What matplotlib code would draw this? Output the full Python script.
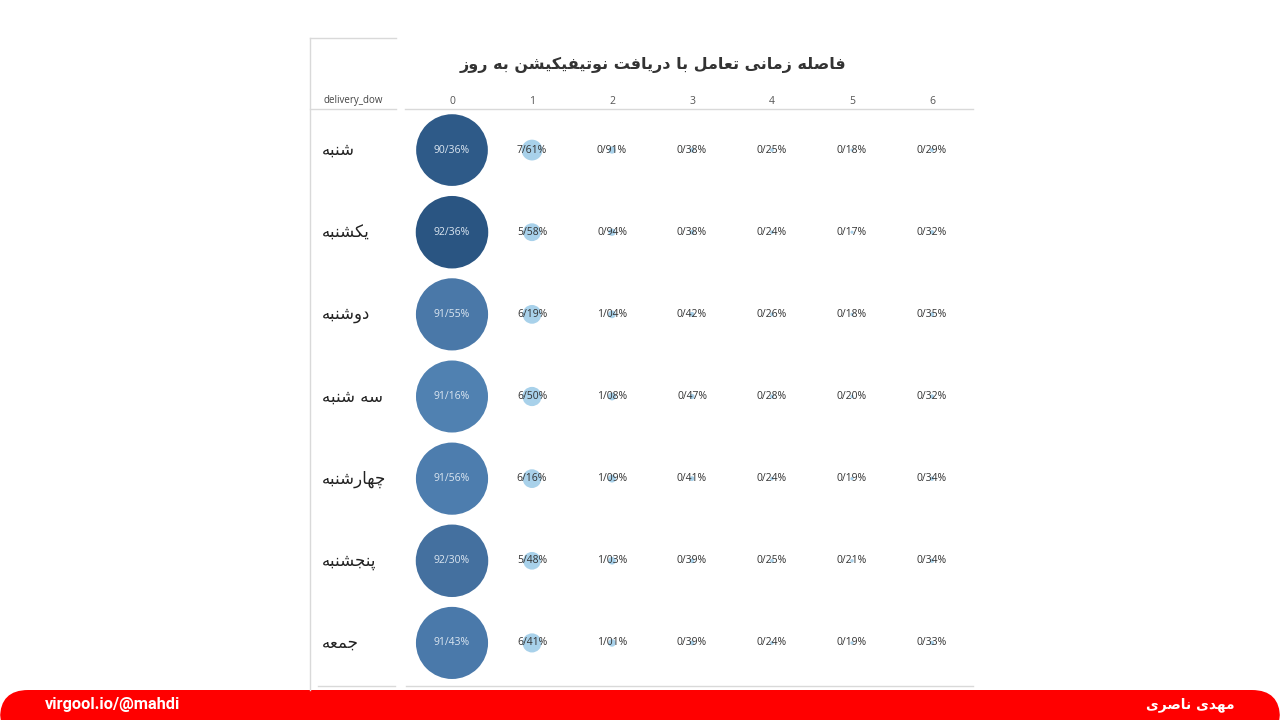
import matplotlib
matplotlib.use("Agg")
import matplotlib.pyplot as plt
import matplotlib.transforms as mtransforms
from matplotlib.patches import FancyBboxPatch
from matplotlib.lines import Line2D

# ---------------- data ----------------
title = "فاصله زمانی تعامل با دریافت نوتیفیکیشن به روز"
days = ["شنبه", "یکشنبه", "دوشنبه", "سه شنبه", "چهارشنبه", "پنجشنبه", "جمعه"]
columns = [0, 1, 2, 3, 4, 5, 6]
row_header = "delivery_dow"
col0 = [90.36, 92.36, 91.55, 91.16, 91.56, 92.30, 91.43]
col1 = [7.61, 5.58, 6.19, 6.50, 6.16, 5.48, 6.41]
col2 = [0.91, 0.94, 1.04, 1.08, 1.09, 1.03, 1.01]
col3 = [0.38, 0.38, 0.42, 0.47, 0.41, 0.39, 0.39]
col4 = [0.25, 0.24, 0.26, 0.28, 0.24, 0.25, 0.24]
col5 = [0.18, 0.17, 0.18, 0.20, 0.19, 0.21, 0.19]
col6 = [0.29, 0.32, 0.35, 0.32, 0.34, 0.34, 0.33]
footer_left = "virgool.io/@mahdi"
footer_right = "مهدی ناصری"

# colours of the big bubbles (style)
col0_colors = ["#2e5a88", "#2a5582", "#4a78a8", "#5081b1", "#4d7dae", "#44709f", "#4a79aa"]
small_color = "#a8d1ea"

# ------------- simple Persian shaping -------------
FORMS = {
    "ا": ("\uFE8D", "\uFE8E", None, None),
    "ب": ("\uFE8F", "\uFE90", "\uFE91", "\uFE92"),
    "پ": ("\uFB56", "\uFB57", "\uFB58", "\uFB59"),
    "ت": ("\uFE95", "\uFE96", "\uFE97", "\uFE98"),
    "ج": ("\uFE9D", "\uFE9E", "\uFE9F", "\uFEA0"),
    "چ": ("\uFB7A", "\uFB7B", "\uFB7C", "\uFB7D"),
    "د": ("\uFEA9", "\uFEAA", None, None),
    "ر": ("\uFEAD", "\uFEAE", None, None),
    "ز": ("\uFEAF", "\uFEB0", None, None),
    "س": ("\uFEB1", "\uFEB2", "\uFEB3", "\uFEB4"),
    "ش": ("\uFEB5", "\uFEB6", "\uFEB7", "\uFEB8"),
    "ص": ("\uFEB9", "\uFEBA", "\uFEBB", "\uFEBC"),
    "ع": ("\uFEC9", "\uFECA", "\uFECB", "\uFECC"),
    "ف": ("\uFED1", "\uFED2", "\uFED3", "\uFED4"),
    "ک": ("\uFB8E", "\uFB8F", "\uFB90", "\uFB91"),
    "ل": ("\uFEDD", "\uFEDE", "\uFEDF", "\uFEE0"),
    "م": ("\uFEE1", "\uFEE2", "\uFEE3", "\uFEE4"),
    "ن": ("\uFEE5", "\uFEE6", "\uFEE7", "\uFEE8"),
    "ه": ("\uFEE9", "\uFEEA", "\uFEEB", "\uFEEC"),
    "و": ("\uFEED", "\uFEEE", None, None),
    "ی": ("\uFBFC", "\uFBFD", "\uFBFE", "\uFBFF"),
}


def shape(text):
    out = []
    n = len(text)
    for i, ch in enumerate(text):
        if ch not in FORMS:
            out.append(ch)
            continue
        prev = text[i - 1] if i > 0 else None
        nxt = text[i + 1] if i < n - 1 else None
        cp = prev in FORMS and FORMS[prev][2] is not None
        cn = FORMS[ch][2] is not None and nxt in FORMS
        iso, fin, ini, med = FORMS[ch]
        if cp and cn:
            out.append(med)
        elif cp:
            out.append(fin)
        elif cn:
            out.append(ini)
        else:
            out.append(iso)
    return "".join(out)[::-1]


FA = ["DejaVu Sans"]

# ---------------- figure ----------------
W, H = 1280, 720
fig = plt.figure(figsize=(12.8, 7.2), dpi=100)
fig.patch.set_facecolor("white")


def fx(px):
    return px / W


def fy(py):
    return 1 - py / H


ax = fig.add_axes([fx(412), fy(684), fx(972) - fx(412), fy(109) - fy(684)])
ax.set_xlim(-0.5, 6.5)
ax.set_ylim(6.5, -0.5)
ax.axis("off")

series = [col0, col1, col2, col3, col4, col5, col6]
scale = 29.5
for ci, vals in zip(columns, series):
    for ri, v in enumerate(vals):
        color = col0_colors[ri] if ci == 0 else small_color
        ax.scatter(ci, ri, s=v * scale, color=color, edgecolors="none", zorder=2)
        txt = f"{v:.2f}".replace(".", "/") + "%"
        tcolor = "#dbe6f1" if ci == 0 else "#333333"
        ax.text(ci, ri, txt, ha="center", va="center", fontsize=7.5,
                color=tcolor, zorder=3, family=["Open Sans", "DejaVu Sans"])

# column headers
trans_hdr = mtransforms.blended_transform_factory(ax.transData, fig.transFigure)
for ci in columns:
    ax.text(ci, fy(101), str(ci), transform=trans_hdr, ha="center", va="center",
            fontsize=7.5, color="#555555", family=["Open Sans", "DejaVu Sans"])
fig.text(fx(353), fy(101), row_header, ha="center", va="center", fontsize=7,
         color="#444444", family=["Open Sans", "DejaVu Sans"])

# row labels
trans_row = mtransforms.blended_transform_factory(fig.transFigure, ax.transData)
for ri, d in enumerate(days):
    ax.text(fx(322), ri, shape(d), transform=trans_row, ha="left", va="center",
            fontsize=12, color="#222222", family=FA)

# title
fig.text(fx(653), fy(65), shape(title), ha="center", va="center", fontsize=11.5,
         fontweight="bold", color="#333333", family=FA)

# grid lines
line_c = "#d9d9d9"
for (x0, x1, y0, y1) in [
    (310, 310, 38, 690),
    (310, 396, 38, 38),
    (310, 396, 109, 109),
    (405, 973, 109, 109),
    (318, 395, 686, 686),
    (406, 973, 686, 686),
]:
    fig.add_artist(Line2D([fx(x0), fx(x1)], [fy(y0), fy(y1)], color=line_c,
                          lw=1, transform=fig.transFigure))

# footer bar
bar = FancyBboxPatch((fx(0), fy(740)), 1.0, fy(690) - fy(740),
                     boxstyle="round,pad=0,rounding_size=0.022",
                     transform=fig.transFigure, facecolor="#ff0000",
                     edgecolor="none", mutation_aspect=W / H)
fig.add_artist(bar)
fig.text(fx(45), fy(704), footer_left, ha="left", va="center", fontsize=11.8,
         fontweight="bold", color="white", family=["Roboto", "DejaVu Sans"])
fig.text(fx(1235), fy(705), shape(footer_right), ha="right", va="center",
         fontsize=10, fontweight="bold", color="white", family=FA)

fig.savefig("out.png", dpi=100, facecolor="white")
